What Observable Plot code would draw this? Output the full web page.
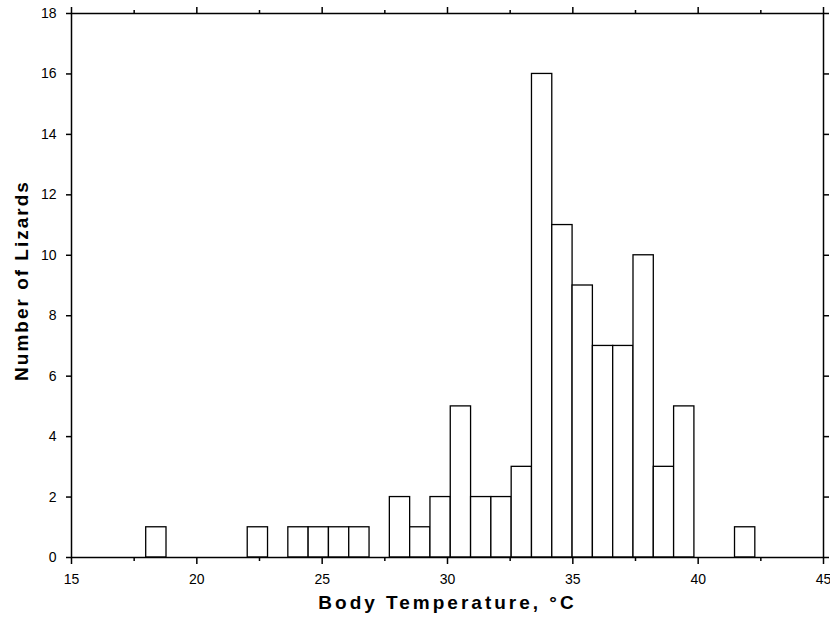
<!DOCTYPE html>
<html>
<head>
<meta charset="utf-8">
<script src="https://cdn.jsdelivr.net/npm/d3@7"></script>
<script src="https://cdn.jsdelivr.net/npm/@observablehq/plot@0.6"></script>
<style>
  body { margin: 0; background: #fff; }
  #chart svg { font-family: "Liberation Sans", Arial, sans-serif !important; }
  #chart svg text { font-size: 14px !important; }
  #chart svg g[font-weight="bold"] text { font-size: 19px !important; letter-spacing: 2px; }
  #chart svg g[font-weight="bold"][font-size="19.1"] text { letter-spacing: 3px; }
</style>
</head>
<body>
<div id="chart"></div>
<script>
// Bin edges (°C) and counts
const binStart = [17.98, 22.03, 23.65, 24.46, 25.27, 26.08, 27.70, 28.51, 29.32, 30.13, 30.94, 31.75, 32.56, 33.37, 34.18, 34.99, 35.80, 36.61, 37.42, 38.23, 39.04, 41.47];
const binEnd   = [18.79, 22.84, 24.46, 25.27, 26.08, 26.89, 28.51, 29.32, 30.13, 30.94, 31.75, 32.56, 33.37, 34.18, 34.99, 35.80, 36.61, 37.42, 38.23, 39.04, 39.85, 42.28];
const counts   = [1, 1, 1, 1, 1, 1, 2, 1, 2, 5, 2, 2, 3, 16, 11, 9, 7, 7, 10, 3, 5, 1];

const xMajorTicks = [15, 20, 25, 30, 35, 40, 45];
const xMinorTicks = [17.5, 22.5, 27.5, 32.5, 37.5, 42.5];
const yTicks = [0, 2, 4, 6, 8, 10, 12, 14, 16, 18];
const xTitle = "Body Temperature, °C";
const yTitle = "Number of Lizards";

const bins = binStart.map((s, i) => ({x1: s, x2: binEnd[i], n: counts[i]}));

const chart = Plot.plot({
  width: 830,
  height: 621,
  marginLeft: 71,
  marginRight: 7,
  marginTop: 13,
  marginBottom: 64,
  style: {fontSize: "14px", color: "#000", background: "#fff"},
  x: {domain: [15, 45]},
  y: {domain: [0, 18]},
  marks: [
    Plot.rectY(bins, {x1: "x1", x2: "x2", y: "n", fill: "white", stroke: "black", strokeWidth: 1.3}),
    Plot.frame({stroke: "black", strokeWidth: 1.5}),
    Plot.axisX({ticks: xMajorTicks, tickSize: 7, tickPadding: 10, tickFormat: d => d, label: null, strokeWidth: 1.5}),
    Plot.axisX({ticks: xMinorTicks, tickSize: 4, text: null, label: null, strokeWidth: 1.5}),
    Plot.axisX({anchor: "top", ticks: xMajorTicks, tickSize: 7, text: null, label: null, strokeWidth: 1.5}),
    Plot.axisX({anchor: "top", ticks: xMinorTicks, tickSize: 4, text: null, label: null, strokeWidth: 1.5}),
    Plot.axisY({ticks: yTicks, tickSize: 5, tickPadding: 10, tickFormat: d => d, label: null, strokeWidth: 1.5}),
    Plot.axisY({anchor: "right", ticks: yTicks, tickSize: 5, text: null, label: null, strokeWidth: 1.5}),
    Plot.text([xTitle], {frameAnchor: "bottom", dy: 51, text: d => d, fontSize: 19.1, fontWeight: "bold", textAnchor: "middle"}),
    Plot.text([yTitle], {frameAnchor: "left", dx: -50, dy: -5, rotate: -90, text: d => d, fontSize: 19, fontWeight: "bold", textAnchor: "middle"})
  ]
});
document.getElementById("chart").appendChild(chart);
</script>
</body>
</html>
